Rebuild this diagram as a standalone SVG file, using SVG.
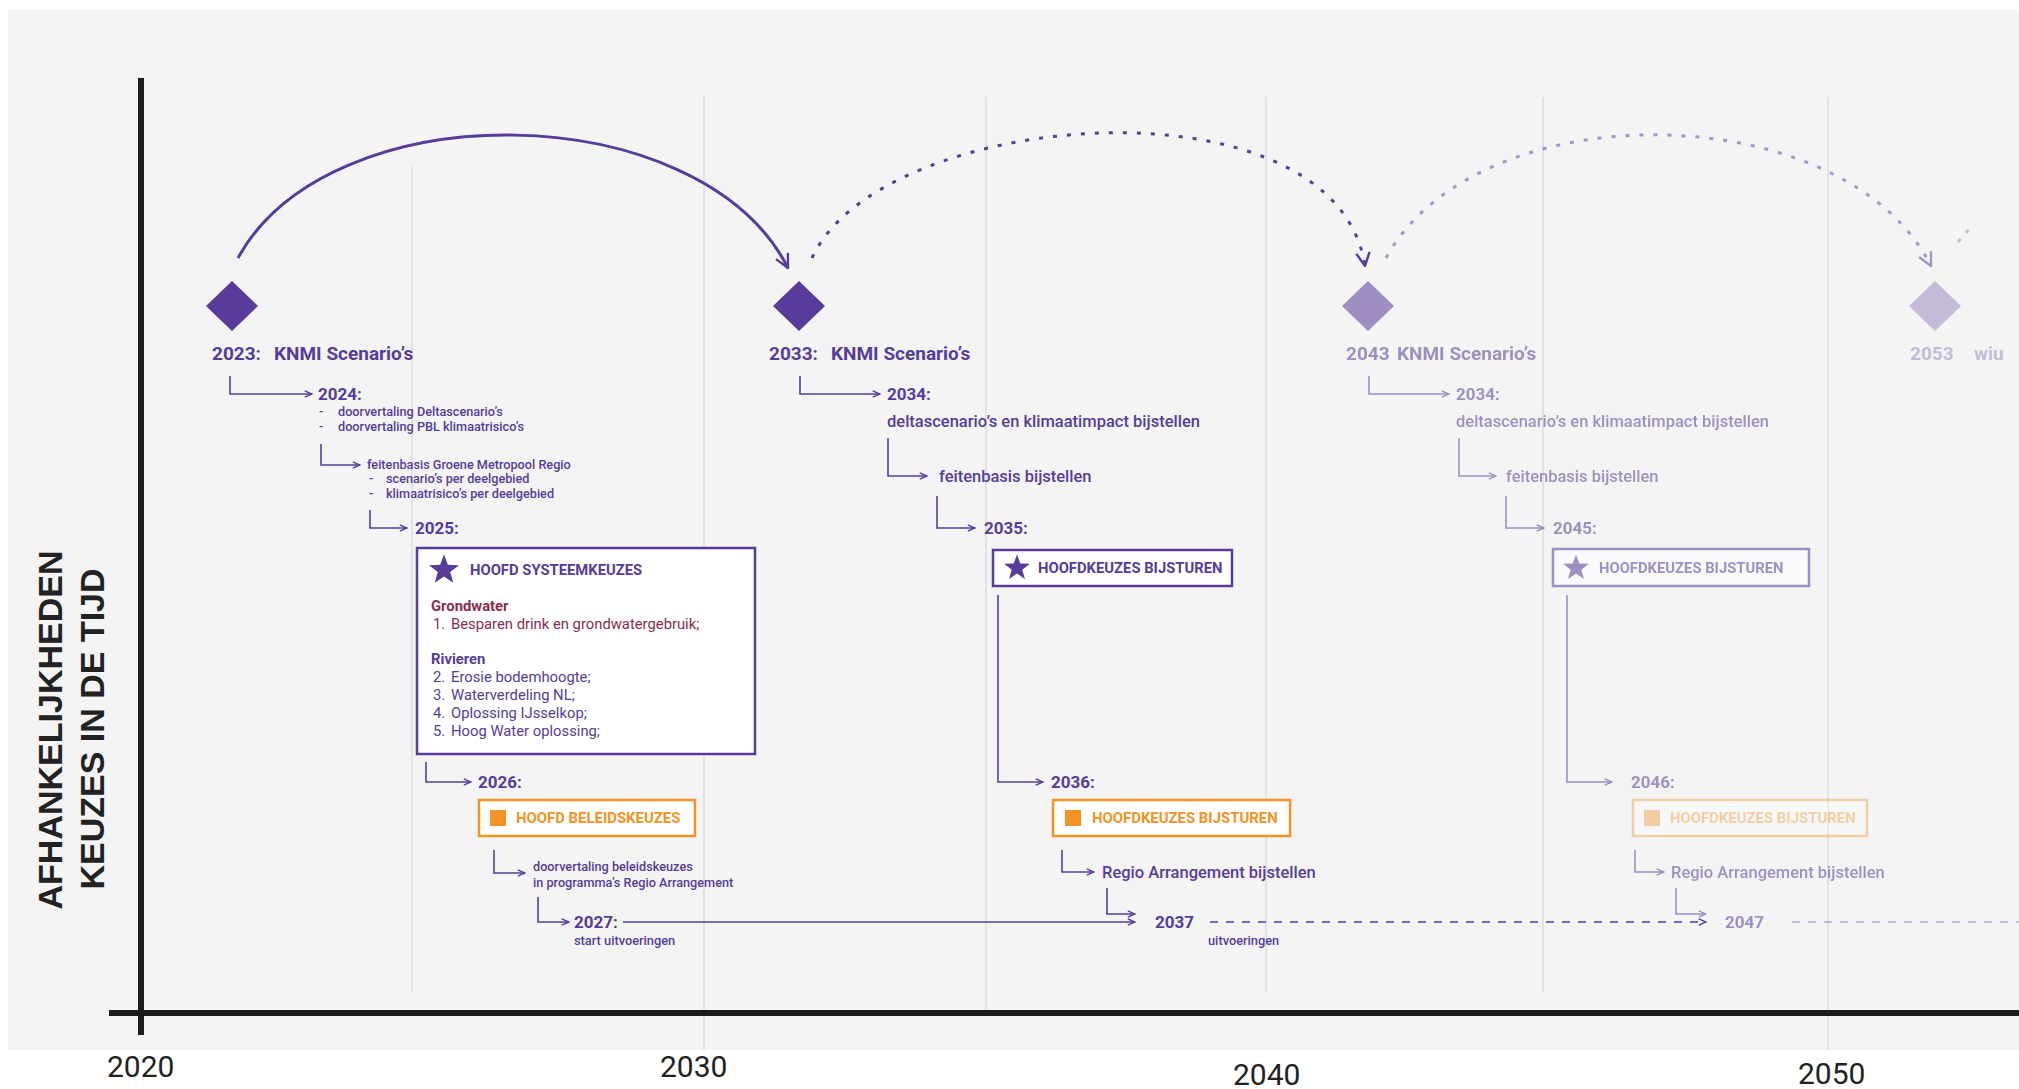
<svg xmlns="http://www.w3.org/2000/svg" width="2019" height="1089" viewBox="0 0 2019 1089">
<style>
.t{font-family:Roboto,"Liberation Sans",sans-serif;fill:#563c9b}
.yr{font-size:17px;font-weight:700}
.h{font-size:19px;font-weight:700}
.s{font-size:12.7px;font-weight:500}
.xs{font-size:12.8px;font-weight:500}
.m{font-size:16.5px;font-weight:500}
.bt{font-size:14.8px;font-weight:700}
.bl{font-size:14.8px;font-weight:400}
.red{fill:#8a2d4f}
.bx{fill:#fff;stroke:#563c9b;stroke-width:2.5}
.ob{fill:#fff;stroke:#f39325;stroke-width:2.5}
.ot{font-family:Roboto,"Liberation Sans",sans-serif;fill:#f39325;font-size:14.9px;font-weight:700}
.c{fill:none;stroke:#563c9b;stroke-width:1.6;marker-end:url(#a)}
.grid{stroke:#dcdcdc;stroke-width:1.5}
.ax{stroke:#1c1c1c;stroke-width:6}
.lab{font-family:Roboto,"Liberation Sans",sans-serif;font-size:30px;fill:#222}
.ttl{font-family:"Liberation Sans",Arial,sans-serif;font-size:34px;font-weight:700;fill:#222}
</style>
<defs>
<marker id="a" viewBox="0 0 10 10" refX="9" refY="5" markerWidth="9" markerHeight="9" markerUnits="userSpaceOnUse" orient="auto"><path d="M1,1.5 L9,5 L1,8.5" fill="none" stroke="#563c9b" stroke-width="1.6"/></marker>
<marker id="aa" viewBox="0 0 12 12" refX="11" refY="6" markerWidth="16" markerHeight="16" markerUnits="userSpaceOnUse" orient="auto"><path d="M1,1 L11,6 L1,11" fill="none" stroke="#563c9b" stroke-width="1.8"/></marker>
<path id="star" d="M0,-15 L3.64,-5.02 L14.27,-4.64 L5.9,1.92 L8.82,12.14 L0,6.2 L-8.82,12.14 L-5.9,1.92 L-14.27,-4.64 L-3.64,-5.02 Z" fill="#563c9b"/>
<path id="dia" d="M0,-25 L26,0 L0,25 L-26,0 Z"/>
</defs>

<rect x="0" y="0" width="2019" height="1089" fill="#ffffff"/>
<rect x="8" y="10" width="2011" height="1040" fill="#f4f4f4"/>

<g id="grid">
<line class="grid" x1="412" y1="167" x2="412" y2="992"/>
<line class="grid" x1="704" y1="97" x2="704" y2="1050"/>
<line class="grid" x1="986" y1="97" x2="986" y2="1010"/>
<line class="grid" x1="1266" y1="97" x2="1266" y2="992"/>
<line class="grid" x1="1543" y1="97" x2="1543" y2="992"/>
<line class="grid" x1="1828" y1="97" x2="1828" y2="1050"/>
</g>

<g id="axes">
<line class="ax" x1="141" y1="78" x2="141" y2="1035"/>
<line class="ax" x1="109" y1="1013" x2="2019" y2="1013"/>
<text class="lab" x="107" y="1077">2020</text>
<text class="lab" x="660" y="1077">2030</text>
<text class="lab" x="1233" y="1085">2040</text>
<text class="lab" x="1798" y="1084">2050</text>
<text class="ttl" transform="translate(62,730) rotate(-90)" text-anchor="middle">AFHANKELIJKHEDEN</text>
<text class="ttl" transform="translate(104,729) rotate(-90)" text-anchor="middle">KEUZES IN DE TIJD</text>
</g>

<g id="connectors">
<path d="M238,258 C330,90 700,95 788,268" fill="none" stroke="#563c9b" stroke-width="3" marker-end="url(#aa)"/>
<path d="M812,258 C880,108 1335,72 1365,266" fill="none" stroke="#563c9b" stroke-width="3" stroke-dasharray="4 10" marker-end="url(#aa)"/>
<path d="M1386,258 C1478,90 1845,95 1931,266" fill="none" stroke="#563c9b" stroke-width="3" stroke-dasharray="4 10" marker-end="url(#aa)" opacity="0.5"/>
<path d="M1958,242 L1972,226" fill="none" stroke="#563c9b" stroke-width="3" stroke-dasharray="4 8" opacity="0.3"/>
<path class="c" d="M623,922 H1135" stroke-width="2"/>
<path class="c" d="M1210,922 H1706" stroke-dasharray="8 8"/>
<path d="M1792,922 H2019" fill="none" stroke="#563c9b" stroke-width="1.5" stroke-dasharray="8 8" opacity="0.4"/>
</g>

<g id="n2023">
<use href="#dia" x="232" y="306" fill="#5a3b9b"/>
<text class="t h" x="212" y="360">2023:</text>
<text class="t h" x="274" y="360">KNMI Scenario’s</text>
<path class="c" d="M230,376 V394 H312"/>
<text class="t yr" x="318" y="400">2024:</text>
<text class="t s" x="319" y="416">-</text><text class="t s" x="338" y="416">doorvertaling Deltascenario’s</text>
<text class="t s" x="319" y="431">-</text><text class="t s" x="338" y="431">doorvertaling PBL klimaatrisico’s</text>
<path class="c" d="M321,444 V465 H360"/>
<text class="t s" x="367" y="469">feitenbasis Groene Metropool Regio</text>
<text class="t s" x="369" y="483">-</text><text class="t s" x="386" y="483">scenario’s per deelgebied</text>
<text class="t s" x="369" y="498">-</text><text class="t s" x="386" y="498">klimaatrisico’s per deelgebied</text>
<path class="c" d="M370,510 V528 H407"/>
<text class="t yr" x="415" y="534">2025:</text>
</g>

<g id="n2025-box">
<rect class="bx" x="417" y="548" width="338" height="206"/>
<use href="#star" transform="translate(444,570) scale(1.05)"/>
<text class="t bt" x="470" y="575">HOOFD SYSTEEMKEUZES</text>
<text class="t bt red" x="431" y="611">Grondwater</text>
<text class="t bl red" x="433" y="629">1.</text><text class="t bl red" x="451" y="629">Besparen drink en grondwatergebruik;</text>
<text class="t bt" x="431" y="664">Rivieren</text>
<text class="t bl" x="433" y="682">2.</text><text class="t bl" x="451" y="682">Erosie bodemhoogte;</text>
<text class="t bl" x="433" y="700">3.</text><text class="t bl" x="451" y="700">Waterverdeling NL;</text>
<text class="t bl" x="433" y="718">4.</text><text class="t bl" x="451" y="718">Oplossing IJsselkop;</text>
<text class="t bl" x="433" y="736">5.</text><text class="t bl" x="451" y="736">Hoog Water oplossing;</text>
</g>

<g id="n2026">
<path class="c" d="M426,762 V782 H471"/>
<text class="t yr" x="478" y="788">2026:</text>
<rect class="ob" x="479" y="800" width="216" height="36"/>
<rect x="490" y="810" width="16" height="16" fill="#f39325"/>
<text class="ot" x="516" y="823">HOOFD BELEIDSKEUZES</text>
<path class="c" d="M494,850 V873 H525"/>
<text class="t s" x="533" y="871">doorvertaling beleidskeuzes</text>
<text class="t s" x="533" y="887">in programma’s Regio Arrangement</text>
<path class="c" d="M538,897 V922 H569"/>
<text class="t yr" x="574" y="928">2027:</text>
<text class="t xs" x="574" y="945">start uitvoeringen</text>
</g>

<g id="n2033">
<use href="#dia" x="799" y="306" fill="#5a3b9b"/>
<text class="t h" x="769" y="360">2033:</text>
<text class="t h" x="831" y="360">KNMI Scenario’s</text>
<path class="c" d="M800,376 V394 H880"/>
<text class="t yr" x="887" y="400">2034:</text>
<text class="t m" x="887" y="427">deltascenario’s en klimaatimpact bijstellen</text>
<path class="c" d="M888,438 V476 H927"/>
<text class="t m" x="939" y="482">feitenbasis bijstellen</text>
<path class="c" d="M937,496 V528 H975"/>
<text class="t yr" x="984" y="534">2035:</text>
<rect class="bx" x="993" y="550" width="239" height="36"/>
<use href="#star" transform="translate(1017,568) scale(0.9)"/>
<text class="t bt" x="1038" y="573">HOOFDKEUZES BIJSTUREN</text>
<path class="c" d="M998,595 V782 H1043"/>
<text class="t yr" x="1051" y="788">2036:</text>
<rect class="ob" x="1053" y="800" width="237" height="36"/>
<rect x="1065" y="810" width="16" height="16" fill="#f39325"/>
<text class="ot" x="1092" y="823">HOOFDKEUZES BIJSTUREN</text>
<path class="c" d="M1062,850 V872 H1094"/>
<text class="t m" x="1102" y="878">Regio Arrangement bijstellen</text>
<path class="c" d="M1107,888 V914 H1135"/>
<text class="t yr" x="1155" y="928">2037</text>
<text class="t xs" x="1208" y="945">uitvoeringen</text>
</g>

<g id="n2043" opacity="0.55">
<use href="#dia" x="1368" y="306" fill="#5a3b9b"/>
<text class="t h" x="1346" y="360" font-weight="500">2043</text>
<text class="t h" x="1397" y="360" font-weight="500">KNMI Scenario’s</text>
<path class="c" d="M1369,376 V394 H1449"/>
<text class="t yr" x="1456" y="400" font-weight="500">2034:</text>
<text class="t m" x="1456" y="427" font-weight="400">deltascenario’s en klimaatimpact bijstellen</text>
<path class="c" d="M1459,438 V476 H1496"/>
<text class="t m" x="1506" y="482" font-weight="400">feitenbasis bijstellen</text>
<path class="c" d="M1506,496 V528 H1544"/>
<text class="t yr" x="1553" y="534" font-weight="500">2045:</text>
<rect class="bx" x="1553" y="549" width="256" height="37"/>
<use href="#star" transform="translate(1576,568) scale(0.9)"/>
<text class="t bt" x="1599" y="573">HOOFDKEUZES BIJSTUREN</text>
<path class="c" d="M1567,595 V782 H1612"/>
<text class="t yr" x="1631" y="788" font-weight="500">2046:</text>
<g opacity="0.7">
<rect class="ob" x="1633" y="800" width="234" height="36"/>
<rect x="1644" y="810" width="16" height="16" fill="#f39325"/>
<text class="ot" x="1670" y="823">HOOFDKEUZES BIJSTUREN</text>
</g>
<path class="c" d="M1635,850 V872 H1664"/>
<text class="t m" x="1671" y="878">Regio Arrangement bijstellen</text>
<path class="c" d="M1676,888 V914 H1706"/>
<text class="t yr" x="1725" y="928" font-weight="500">2047</text>
</g>

<g id="n2053" opacity="0.3">
<use href="#dia" x="1935" y="306" fill="#5a3b9b"/>
<text class="t h" x="1910" y="360" font-weight="500">2053</text>
<text class="t h" x="1974" y="360" font-weight="500">wiu</text>
</g>
</svg>
